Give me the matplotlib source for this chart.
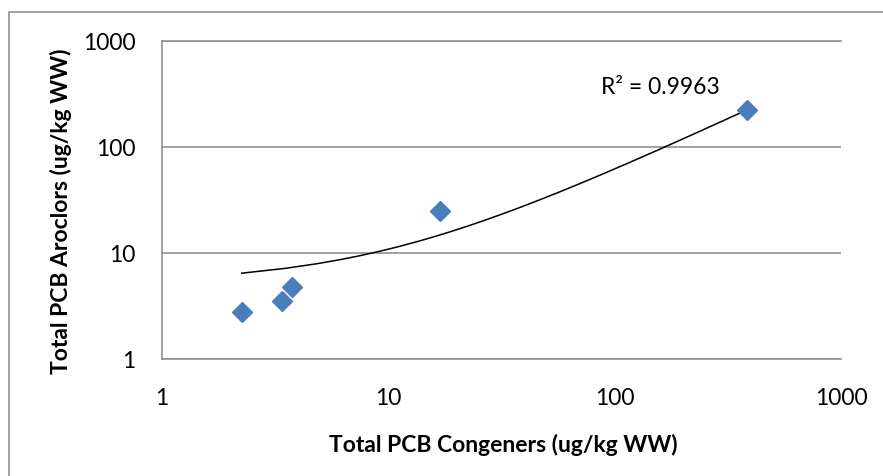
import matplotlib.pyplot as plt
import numpy as np
from matplotlib.patches import Rectangle

# Data
congeners = np.array([2.25, 3.40, 3.77, 16.9, 383.0])   # ug/kg WW
aroclors = np.array([2.79, 3.53, 4.81, 24.9, 223.0])     # ug/kg WW
r2_label = "R² = 0.9963"
ticks = [1, 10, 100, 1000]
tick_labels = ["1", "10", "100", "1000"]
xlabel = "Total PCB Congeners (ug/kg WW)"
ylabel = "Total PCB Aroclors (ug/kg WW)"

plt.rcParams['font.family'] = ['Lato', 'DejaVu Sans']

fig = plt.figure(figsize=(8.83, 4.76), dpi=100)
W, H = 883, 476
ax = fig.add_axes([162 / W, 1 - 359 / H, (841 - 162) / W, (359 - 41) / H])

# linear trendline (Excel style), shown on log axes
slope, icpt = np.polyfit(congeners, aroclors, 1)
xt = np.linspace(congeners.min(), congeners.max(), 300)
ax.plot(xt, slope * xt + icpt, color='black', lw=1.1, zorder=3)

ax.plot(congeners, aroclors, linestyle='none', marker='D', ms=10.5,
        color='#4a7ebb', mec='#4a7ebb', zorder=4)

ax.set_xscale('log')
ax.set_yscale('log')
ax.set_xlim(1, 1000)
ax.set_ylim(1, 1000)
ax.set_xticks(ticks)
ax.set_xticklabels(tick_labels)
ax.set_yticks(ticks)
ax.set_yticklabels(tick_labels)
ax.minorticks_off()
ax.tick_params(axis='both', length=0, labelsize=16.5, colors='black')
ax.tick_params(axis='x', pad=21)
ax.tick_params(axis='y', pad=19)

ax.grid(axis='y', color='#888888', lw=1.1)
ax.set_axisbelow(True)
for side in ['top', 'right']:
    ax.spines[side].set_visible(False)
for side in ['left', 'bottom']:
    ax.spines[side].set_color('#888888')
    ax.spines[side].set_linewidth(1.1)
# top gridline at 1000
ax.axhline(1000, color='#888888', lw=1.1, clip_on=False, zorder=1)

ax.text(660 / W, 1 - 88 / H, r2_label, transform=fig.transFigure,
        ha='center', va='center', fontsize=16.5)

xl = fig.text(503 / W, 1 - 452 / H, xlabel,
              ha='center', va='baseline', fontsize=15, fontweight='bold')
yl = fig.text(61 / W, 1 - 211 / H, ylabel,
              ha='center', va='center', fontsize=15, fontweight='bold', rotation=90)

# scale the axis titles so the x title is ~350 px wide, as in the chart
r = fig.canvas.get_renderer()
w = xl.get_window_extent(r).width
fs = 15 * 350 / w
xl.set_fontsize(fs)
yl.set_fontsize(fs)

# chart area border
fig.patches.append(Rectangle((9 / W, -0.1), 2, 1.1 - 12 / H,
                             transform=fig.transFigure, fill=False,
                             edgecolor='#898989', lw=1.1))

fig.savefig("out.png", dpi=100)
